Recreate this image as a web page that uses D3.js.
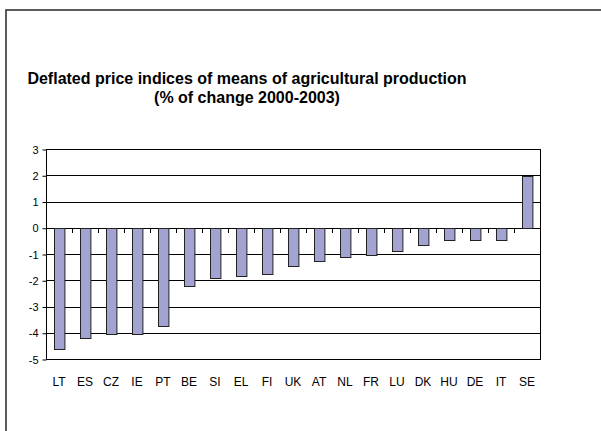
<!DOCTYPE html>
<html><head><meta charset="utf-8">
<script src="https://cdn.jsdelivr.net/npm/d3@7"></script>
<style>body{margin:0;background:#fff}svg{display:block}</style>
</head><body>
<script>
const categories = ["LT","ES","CZ","IE","PT","BE","SI","EL","FI","UK","AT","NL","FR","LU","DK","HU","DE","IT","SE"];
const values = [-4.63,-4.2,-4.03,-4.03,-3.74,-2.22,-1.93,-1.85,-1.76,-1.47,-1.27,-1.13,-1.04,-0.89,-0.67,-0.47,-0.47,-0.47,1.98];
const yTicks = [-5,-4,-3,-2,-1,0,1,2,3];
const titleLines = ["Deflated price indices of means of agricultural production","(% of change 2000-2003)"];

const W = 601, H = 431;
const FONT = "Liberation Sans, Arial, sans-serif";
const svg = d3.select("body").append("svg").attr("width", W).attr("height", H);
svg.append("rect").attr("width", W).attr("height", H).attr("fill", "#fff");
// outer chart border (extends past right/bottom edges)
svg.append("rect").attr("x", 6).attr("y", 10).attr("width", W + 20).attr("height", H + 20)
  .attr("fill", "none").attr("stroke", "#333").attr("stroke-width", 1.6);

const L = 46, R = 540, T = 149, B = 359;
const x = d3.scaleBand().domain(categories).range([L, R]).paddingInner(0.6).paddingOuter(0.3);
const xb = d3.scaleBand().domain(categories).range([L, R]);
const y = d3.scaleLinear().domain([-5, 3]).range([B, T]);

const title = svg.append("text").attr("font-family", FONT)
  .attr("font-weight", "bold").attr("font-size", 16).attr("text-anchor", "middle").attr("fill", "#000");
titleLines.forEach((t, i) => title.append("tspan").attr("x", 247).attr("y", 84 + i * 19).text(t));

// gridlines
svg.append("g").selectAll("line").data(yTicks).join("line")
  .attr("x1", L).attr("x2", R).attr("y1", d => Math.round(y(d)) + 0.5).attr("y2", d => Math.round(y(d)) + 0.5)
  .attr("stroke", "#000").attr("stroke-width", 1);
// plot frame
svg.append("rect").attr("x", L + 0.5).attr("y", Math.round(T) + 0.5).attr("width", R - L).attr("height", Math.round(B) - Math.round(T))
  .attr("fill", "none").attr("stroke", "#000");

// y axis
const ya = svg.append("g").attr("transform", `translate(${L + 0.5},0.5)`)
  .call(d3.axisLeft(y).tickValues(yTicks).tickSize(4).tickPadding(4).tickFormat(d => String(d)));
ya.select(".domain").remove();
ya.selectAll("line").attr("stroke", "#000");
ya.selectAll("text").attr("font-family", FONT).attr("font-size", 11).attr("fill", "#000");

// category ticks on zero line
const bounds = categories.map(c => xb(c)).concat([R]);
svg.append("g").selectAll("line").data(bounds).join("line")
  .attr("x1", d => Math.round(d) + 0.5).attr("x2", d => Math.round(d) + 0.5)
  .attr("y1", Math.round(y(0))).attr("y2", Math.round(y(0)) + 5).attr("stroke", "#000");

// bars
svg.append("g").selectAll("rect").data(values).join("rect")
  .attr("x", (d, i) => Math.round(x(categories[i])) + 0.5)
  .attr("width", x.bandwidth())
  .attr("y", d => Math.round(y(Math.max(0, d))) + 0.5)
  .attr("height", d => Math.abs(Math.round(y(d)) - Math.round(y(0))))
  .attr("fill", "#a3a3d1").attr("stroke", "#222").attr("stroke-width", 1);

// x labels
svg.append("g").selectAll("text").data(categories).join("text")
  .attr("x", d => xb(d) + xb.bandwidth() / 2).attr("y", 386)
  .attr("text-anchor", "middle").attr("font-family", FONT)
  .attr("font-size", 12).attr("fill", "#000").text(d => d);
</script>
</body></html>
